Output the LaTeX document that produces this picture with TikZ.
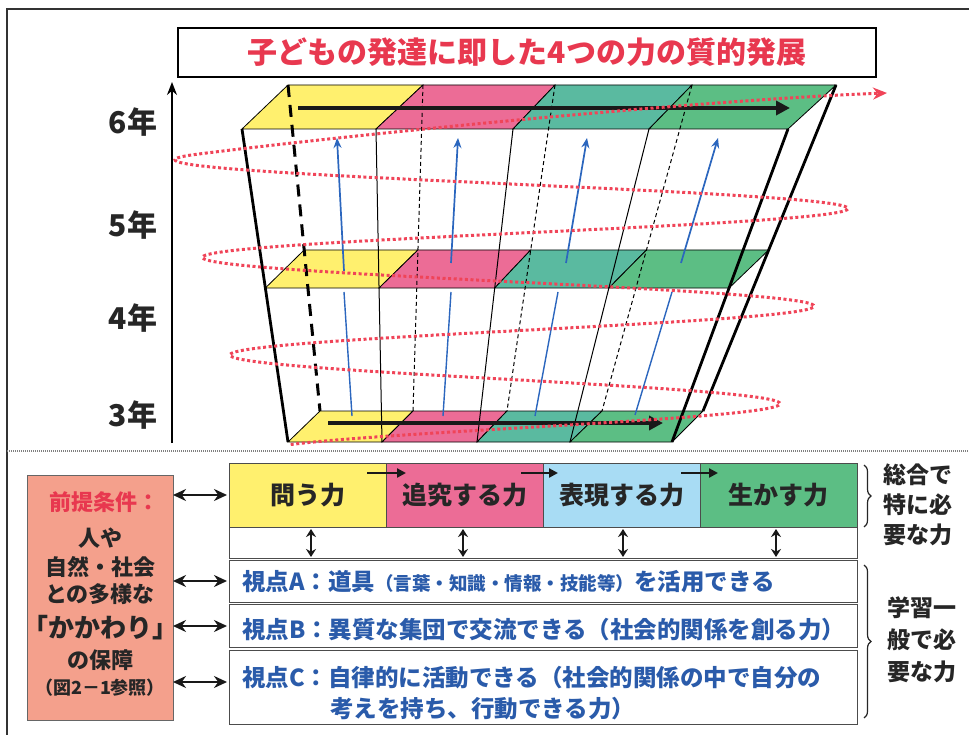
\documentclass[tikz,border=0pt]{standalone}
\usepackage{fontspec}
\setmainfont{Noto Sans CJK JP}
\usetikzlibrary{arrows.meta,calc,decorations.pathreplacing}
\definecolor{cyel}{HTML}{FFF06E}
\definecolor{cpink}{HTML}{EC6C96}
\definecolor{cteal}{HTML}{5ABAA0}
\definecolor{cgreen}{HTML}{5CBE84}
\definecolor{cblue}{HTML}{A8DCF4}
\definecolor{csalmon}{HTML}{F4A08C}
\definecolor{cred}{HTML}{E8384F}
\definecolor{cdot}{HTML}{F04458}
\definecolor{ctxtblue}{HTML}{2A5BAA}
\definecolor{carrowblue}{HTML}{2B66BE}
\begin{document}
\begin{tikzpicture}[x=1pt,y=-1pt,
  every node/.style={inner sep=0pt, outer sep=0pt},
  faceedge/.style={draw=black, line width=0.8pt},
  thinl/.style={draw=black, line width=1pt},
  dashl/.style={draw=black, line width=1pt, dash pattern=on 4pt off 3pt},
  thickdash/.style={draw=black, line width=3pt, dash pattern=on 12pt off 8pt},
  thickl/.style={draw=black, line width=2.8pt},
  bluearr/.style={draw=carrowblue, line width=1.7pt, -{Stealth[length=10pt,width=8pt]}},
  blueln/.style={draw=carrowblue, line width=1.4pt},
  karrow/.style={draw=black!90, line width=4pt, -{Triangle[length=14pt,width=14pt]}},
  reddot/.style={draw=cdot, line width=3pt, dash pattern=on 3pt off 2.6pt},
  yr/.style={font=\fontsize{30}{34}\selectfont\bfseries, text=black!85},
  ttl/.style={draw=black, line width=1.8pt, fill=white, text=cred, font=\fontsize{30}{34}\selectfont\bfseries},
  kbox/.style={draw=black!70, line width=1pt, minimum width=157pt, minimum height=64pt, font=\fontsize{25}{30}\selectfont\bfseries, text=black!85},
  vbox/.style={draw=black!70, line width=1pt, minimum width=628pt, fill=white},
  btxt/.style={anchor=west, text=ctxtblue, font=\fontsize{23.5}{28}\selectfont\bfseries},
  ltxt/.style={font=\fontsize{22}{26}\selectfont\bfseries, text=black!85},
  rtxt/.style={align=center, text=black!85},
  dbl/.style={draw=black!90, line width=2.5pt, {Stealth[length=13pt,width=12pt]}-{Stealth[length=13pt,width=12pt]}},
  dblv/.style={draw=black!90, line width=2pt, {Stealth[length=8pt,width=10pt]}-{Stealth[length=8pt,width=10pt]}},
  sarr/.style={draw=black!90, line width=2.2pt, -{Triangle[length=9pt,width=9pt]}},
  brc/.style={draw=black!85, decorate, decoration={brace, amplitude=7pt}, line width=1.2pt}
]
\useasboundingbox (0,0) rectangle (969,735);
\fill[white] (0,0) rectangle (969,735);

% outer frame
\coordinate (fr1) at (7,735);
\coordinate (fr2) at (7,9);
\coordinate (fr3) at (969,9);
\draw[line width=1.5pt, black!80] (fr1)--(fr2)--(fr3);

% title
\node[ttl, minimum width=698pt, minimum height=49pt] (title) at (527,52.5) {子どもの発達に即した4つの力の質的発展};

% axis and years
\coordinate (ax0) at (172,443);
\coordinate (ax1) at (172,82);
\draw[line width=1.5pt, -{Stealth[length=13pt,width=10pt]}] (ax0)--(ax1);
\node[yr] (y6) at (133,122) {6年};
\node[yr] (y5) at (133,225) {5年};
\node[yr] (y4) at (133,318) {4年};
\node[yr] (y3) at (133,415) {3年};

% frustum coordinates
\coordinate (tb0) at (288,85);  \coordinate (tb1) at (423,85);  \coordinate (tb2) at (555,85);
\coordinate (tb3) at (692,85);  \coordinate (tb4) at (836,85);
\coordinate (tf0) at (242,129); \coordinate (tf1) at (376,129); \coordinate (tf2) at (513,129);
\coordinate (tf3) at (649,129); \coordinate (tf4) at (788,129);
\coordinate (bb0) at (320,411); \coordinate (bb1) at (413,411); \coordinate (bb2) at (507,411);
\coordinate (bb3) at (602,411); \coordinate (bb4) at (703,411);
\coordinate (bf0) at (288,442); \coordinate (bf1) at (382,442); \coordinate (bf2) at (477,442);
\coordinate (bf3) at (570,442); \coordinate (bf4) at (672,442);
\foreach \i in {0,...,4}{
  \coordinate (mb\i) at ($(tb\i)!0.506!(bb\i)$);
  \coordinate (mf\i) at ($(tf\i)!0.508!(bf\i)$);
}
% faces
\foreach \lv in {t,m,b}{
  \foreach \i/\j/\c in {0/1/cyel,1/2/cpink,2/3/cteal,3/4/cgreen}{
    \filldraw[faceedge, fill=\c] (\lv b\i)--(\lv b\j)--(\lv f\j)--(\lv f\i)--cycle;
  }
}
% edges
\foreach \i in {1,2,3}{
  \draw[thinl] (tf\i)--(bf\i);
  \draw[dashl] (tb\i)--(bb\i);
}
\draw[thickdash] (tb0)--(bb0);
\draw[thickl] (tf0)--(bf0);
\draw[thickl] (tf4)--(bf4);
\draw[thickl] (tb4)--(bb4);

% blue arrows
\coordinate (bl1a) at (352,416); \coordinate (bl1b) at (344,292);
\coordinate (bu1a) at (344,271); \coordinate (bu1b) at (337,138);
\coordinate (bl2a) at (443,416); \coordinate (bl2b) at (451,292);
\coordinate (bu2a) at (451,263); \coordinate (bu2b) at (458,138);
\coordinate (bl3a) at (535,416); \coordinate (bl3b) at (558,292);
\coordinate (bu3a) at (566,263); \coordinate (bu3b) at (587,138);
\coordinate (bl4a) at (635,415); \coordinate (bl4b) at (672,292);
\coordinate (bu4a) at (681,263); \coordinate (bu4b) at (718,138);
\foreach \i in {1,2,3,4}{
  \draw[blueln] (bl\i a)--(bl\i b);
  \draw[bluearr] (bu\i a)--(bu\i b);
}

% black arrows
\coordinate (ka1) at (298,108); \coordinate (ka2) at (790,108);
\coordinate (kb1) at (328,423); \coordinate (kb2) at (663,423);
\draw[karrow] (ka1)--(ka2);
\draw[karrow] (kb1)--(kb2);

% red dotted spiral
\coordinate (redend) at (887,93);
\draw[reddot, -{Stealth[length=14pt,width=12pt]}] plot[domain=0.585:3.56, samples=320, variable=\u]
  ({508.6+3.25*\u+(237.4+30.75*\u)*cos(360*\u)}, {404-97.6*(\u-1)})
  .. controls (348,135) and (700,100) .. (redend);

% separator
\coordinate (sep1) at (7,451);
\coordinate (sep2) at (969,451);
\draw[gray, line width=1.5pt, dash pattern=on 1pt off 1pt] (sep1)--(sep2);

% left box
\node[draw=black!60, line width=1pt, fill=csalmon, minimum width=146pt, minimum height=245pt] (lb) at (100,597.5) {};
\node[ltxt, text=cred] (lt1) at (104,502) {前提条件：};
\node[ltxt] (lt2) at (100,538) {人や};
\node[ltxt] (lt3) at (100,567) {自然・社会};
\node[ltxt] (lt4) at (100,594) {との多様な};
\node[ltxt, font=\fontsize{26}{30}\selectfont\bfseries] (lt5) at (100,628) {「かかわり」};
\node[ltxt] (lt6) at (100,660) {の保障};
\node[ltxt, font=\fontsize{18}{20}\selectfont\bfseries] (lt7) at (100,688) {（図2－1参照）};

% four abilities
\node[kbox, fill=cyel] (k1) at (307.5,495) {問う力};
\node[kbox, fill=cpink] (k2) at (464.5,495) {追究する力};
\node[kbox, fill=cblue] (k3) at (621.5,495) {表現する力};
\node[kbox, fill=cgreen] (k4) at (778.5,495) {生かす力};
\coordinate (s1a) at (367,473); \coordinate (s1b) at (406,473);
\coordinate (s2a) at (521,473); \coordinate (s2b) at (558,473);
\coordinate (s3a) at (681,473); \coordinate (s3b) at (718,473);
\foreach \i in {1,2,3}{ \draw[sarr] (s\i a)--(s\i b); }

% middle white strip and viewpoint boxes
\node[vbox, minimum height=31pt] (wm) at (543,542.5) {};
\node[vbox, minimum height=42pt] (va) at (543,581) {};
\node[vbox, minimum height=43pt] (vb) at (543,626) {};
\node[vbox, minimum height=74pt] (vc) at (543,687) {};
\foreach \x [count=\n] in {311,463,623,776}{
  \coordinate (vu\n) at (\x,529);
  \coordinate (vd\n) at (\x,557);
  \draw[dblv] (vu\n)--(vd\n);
}
\node[btxt] (ta) at (242,582) {視点A：道具{\fontsize{18.5}{20}\selectfont （言葉・知識・情報・技能等）}を活用できる};
\node[btxt] (tb) at (242,630) {視点B：異質な集団で交流できる（社会的関係を創る力）};
\node[btxt] (tc1) at (242,678) {視点C：自律的に活動できる（社会的関係の中で自分の};
\node[btxt] (tc2) at (330,709) {考えを持ち、行動できる力）};

% horizontal double arrows
\coordinate (hc) at ($(vc.west)+(0,-5)$);
\draw[dbl, shorten >=2pt] (lb.east |- k1.west) -- (k1.west);
\draw[dbl, shorten >=2pt] (lb.east |- va.west) -- (va.west);
\draw[dbl, shorten >=2pt] (lb.east |- vb.west) -- (vb.west);
\draw[dbl, shorten >=2pt] (lb.east |- hc) -- (hc);

% braces and right labels
\coordinate (br1a) at (864,465); \coordinate (br1b) at (864,527);
\coordinate (br2a) at (864,565); \coordinate (br2b) at (864,718);
\draw[brc] (br1a)--(br1b);
\draw[brc] (br2a)--(br2b);
\node[rtxt, font=\fontsize{23}{30}\selectfont\bfseries] (r1) at (918,505) {総合で\\特に必\\要な力};
\node[rtxt, font=\fontsize{23}{32}\selectfont\bfseries] (r2) at (922,640) {学習一\\般で必\\要な力};
\end{tikzpicture}
\end{document}
